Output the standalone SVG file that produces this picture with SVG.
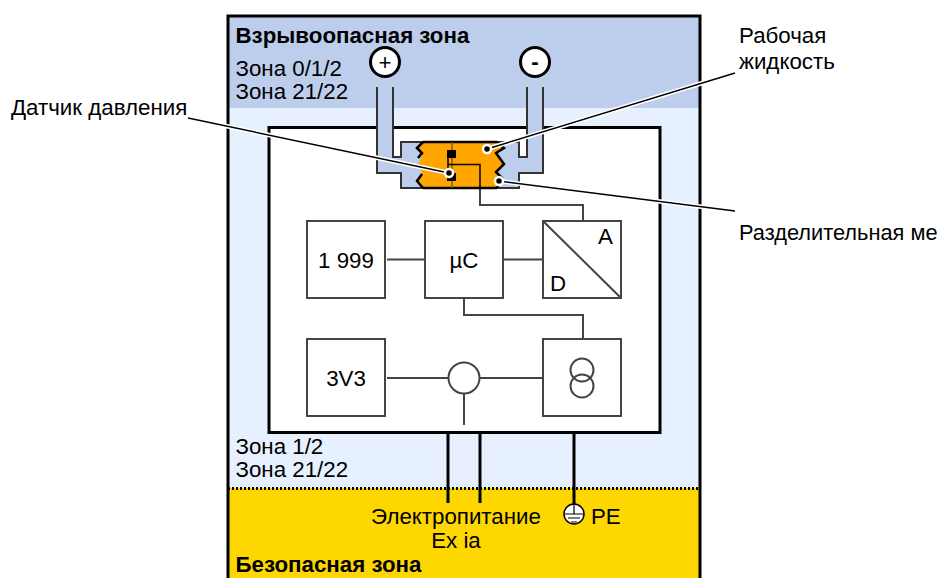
<svg xmlns="http://www.w3.org/2000/svg" width="940" height="578" viewBox="0 0 940 578">
<style>
text{font-family:"Liberation Sans",Arial,sans-serif;font-size:22.300px;fill:#000}
.b{font-weight:bold}
.m{text-anchor:middle}
.box{fill:#fff;stroke:#444;stroke-width:2}
.w{fill:none;stroke:#444;stroke-width:2}
.k{fill:none;stroke:#000;stroke-width:3}
.halo{fill:none;stroke:#fff;stroke-width:4.500}
.core{fill:none;stroke:#000;stroke-width:1.500}
.dot{fill:#000;stroke:#fff;stroke-width:2.500}
</style>
<g id="zones">
<rect x="228" y="16" width="472" height="92" fill="#bdcdec"/>
<rect x="228" y="108" width="472" height="380" fill="#e6f0fe"/>
<rect x="228" y="488" width="472" height="90" fill="#ffd700"/>
<path d="M228 488.500H700" fill="none" stroke="#000" stroke-width="3" stroke-dasharray="2 2"/>
<path d="M228 578V16H700V578" fill="none" stroke="#000" stroke-width="3"/>
<text x="235.500" y="43" class="b">Взрывоопасная зона</text>
<text x="235.500" y="76">Зона 0/1/2</text>
<text x="235.500" y="99">Зона 21/22</text>
<text x="235.500" y="454">Зона 1/2</text>
<text x="235.500" y="477">Зона 21/22</text>
<text x="235.500" y="572" class="b">Безопасная зона</text>
</g>
<g id="housing"><rect x="269" y="127.500" width="391" height="305" fill="#fff" stroke="#000" stroke-width="3"/></g>
<g id="connectors">
<path class="k" d="M448 433V503M480 433V503M574 433V504"/>
<path class="w" d="M387 259.500H425M503 259.500H543M387 378H449M480 378H543M464 393V425M464 298V315H583V339M480 188V205H583V221"/>
</g>
<g id="sensor">
<path d="M377 87V173H401V188H519V173H543V87H527V157H519V142H401V157H393V87Z" fill="#bdcdec"/>
<path d="M377 87V173H401V188H519V173H543V87M527 87V157H519V142H401V157H393V87" fill="none" stroke="#333" stroke-width="2"/>
<path d="M423 142H497L504 148L496 153L504 164L496 172L502 178L497 188H423L417 181L422 172L418 164L422 156L417 148Z" fill="#ffa500"/>
<path d="M423 142H497M497 188H423M423 142L417 148L422 153L418 158M423 188L417 181L422 174M497 142L504 148L496 153L504 164L496 172L502 178L497 188" fill="none" stroke="#000" stroke-width="2.500"/>
<path d="M452 142V188" stroke="#8a5a00" stroke-width="1.500" fill="none"/>
<rect x="447" y="150" width="9" height="8" fill="#000"/>
<rect x="447" y="173" width="9" height="8" fill="#000"/>
<path d="M448 158V173M448 164.500H480V188" fill="none" stroke="#000" stroke-width="1.500"/>
</g>
<g id="term-plus"><circle cx="385" cy="62" r="14.500" fill="#fff" stroke="#000" stroke-width="3"/><text x="385" y="70" class="m">+</text></g>
<g id="term-minus"><circle cx="535" cy="62" r="14.500" fill="#fff" stroke="#000" stroke-width="3"/><text x="535" y="69" class="m" font-weight="bold">-</text></g>
<g id="display"><rect class="box" x="307" y="221" width="78" height="77"/><text x="346" y="268" class="m">1 999</text></g>
<g id="uc"><rect class="box" x="425" y="221" width="78" height="77"/><text x="464" y="268" class="m">µC</text></g>
<g id="adc"><rect class="box" x="543" y="221" width="78" height="77"/><path class="w" d="M543 221L621 298"/><text x="598" y="244">A</text><text x="550" y="291">D</text></g>
<g id="reg"><rect class="box" x="307" y="339" width="78" height="77"/><text x="346" y="386" class="m">3V3</text></g>
<g id="source"><circle cx="464" cy="378" r="15.500" fill="#fff" stroke="#444" stroke-width="2"/></g>
<g id="transformer"><rect class="box" x="543" y="339" width="78" height="77"/><circle cx="582" cy="370" r="11.500" class="w"/><circle cx="582" cy="386" r="11.500" class="w"/></g>
<g id="earth"><circle cx="574" cy="514" r="10" fill="#fff" stroke="#000" stroke-width="1.500"/><path d="M574 504V514M565 514H583M568 518H580M571 522H577" fill="none" stroke="#000" stroke-width="1.200"/><text x="591" y="524">PE</text></g>
<g id="power"><text x="456" y="524" class="m">Электропитание</text><text x="456" y="548" class="m">Ex ia</text></g>
<g id="callouts">
<path class="halo" d="M188 118L449 173M735 73L487 149M735 211L499 181"/>
<path class="core" d="M188 118L449 173M735 73L487 149M735 211L499 181"/>
<circle class="dot" cx="449" cy="173" r="4"/><circle class="dot" cx="487" cy="149" r="4"/><circle class="dot" cx="499" cy="181" r="4"/>
<text x="11" y="115">Датчик давления</text>
<text x="739" y="43">Рабочая</text>
<text x="739" y="69">жидкость</text>
<text x="739" y="240" style="font-size:21.800px">Разделительная ме</text>
</g>
</svg>
